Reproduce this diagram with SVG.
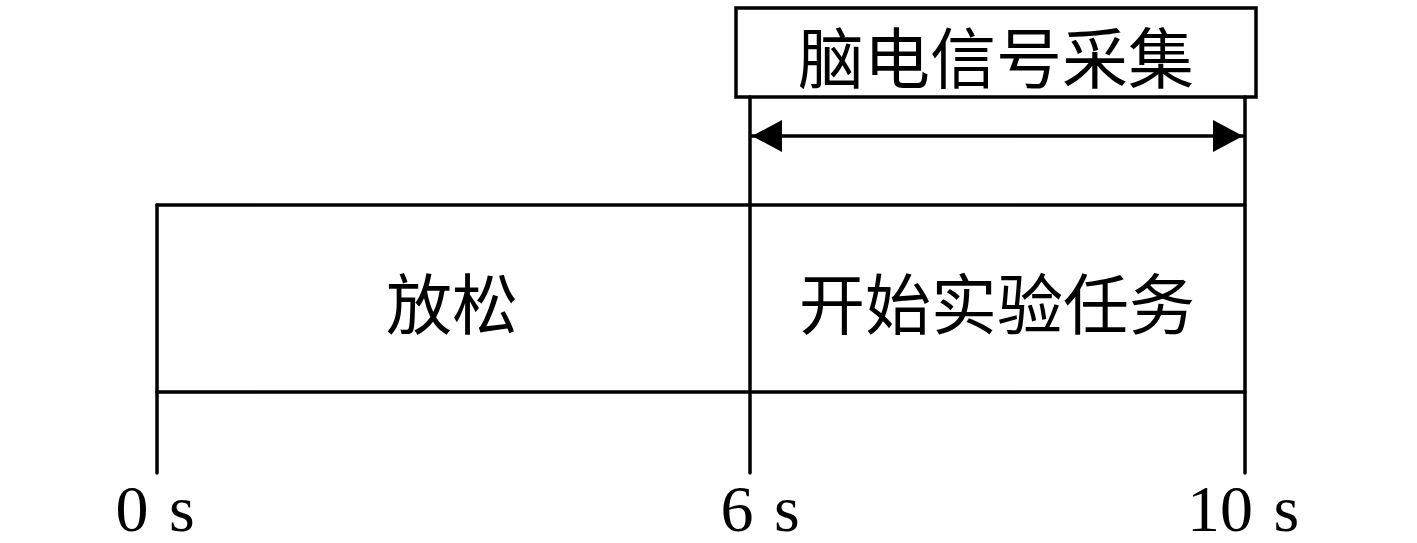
<svg xmlns="http://www.w3.org/2000/svg" width="1417" height="543" viewBox="0 0 1417 543">
<defs>
<style>
.ln{stroke:#000;stroke-width:3.5;fill:none;stroke-linecap:round}
.cjk{font-family:"Noto Sans CJK SC","Noto Sans CJK JP",sans-serif;font-size:66px;fill:#000;text-anchor:middle;dominant-baseline:central}
.lbl{font-family:"Liberation Serif","DejaVu Serif",serif;font-size:66px;fill:#000;text-anchor:middle;word-spacing:4px}
</style>
<marker id="ah" viewBox="0 0 30 32" refX="30" refY="16" markerWidth="30" markerHeight="32" markerUnits="userSpaceOnUse" orient="auto-start-reverse">
<path d="M0,0 L30,16 L0,32 Z" fill="#000"/>
</marker>
</defs>
<rect width="1417" height="543" fill="#fff"/>
<g id="eeg">
<rect x="736" y="8" width="520" height="89" fill="#fff" stroke="#000" stroke-width="3.5"/>
<text class="cjk" x="996" y="54">脑电信号采集</text>
</g>
<g id="relax">
<text class="cjk" x="452" y="300">放松</text>
</g>
<g id="task">
<text class="cjk" x="997" y="300">开始实验任务</text>
</g>
<g id="connectors">
<line class="ln" x1="157" y1="205" x2="1245" y2="205"/>
<line class="ln" x1="157" y1="392" x2="1245" y2="392"/>
<line class="ln" x1="157" y1="205" x2="157" y2="473"/>
<line class="ln" x1="750" y1="97" x2="750" y2="473"/>
<line class="ln" x1="1245" y1="97" x2="1245" y2="473"/>
<line class="ln" x1="752" y1="136" x2="1243" y2="136" marker-start="url(#ah)" marker-end="url(#ah)"/>
</g>
<g id="labels">
<text class="lbl" x="155" y="531">0 s</text>
<text class="lbl" x="760" y="531">6 s</text>
<text class="lbl" x="1243" y="531">10 s</text>
</g>
</svg>
